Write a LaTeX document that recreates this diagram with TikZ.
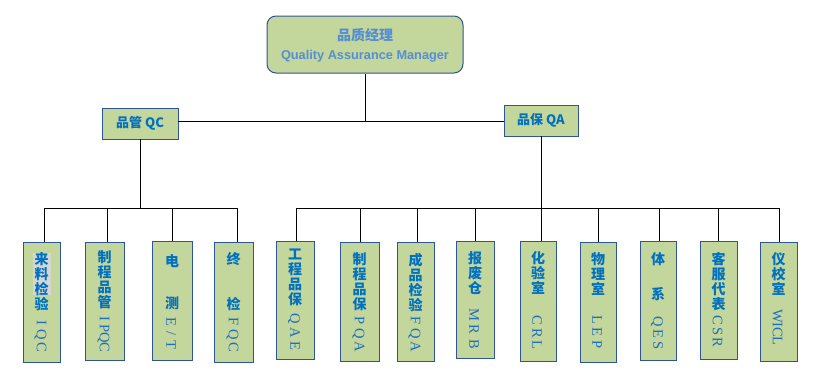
\documentclass[tikz,border=0pt]{standalone}
\usepackage{fontspec}
\setmainfont{Liberation Sans}
\newfontfamily\cjk{Noto Sans CJK SC}
\newfontfamily\latm{Liberation Serif}
\definecolor{boxfill}{HTML}{C3D69B}
\definecolor{boxline}{HTML}{2F5597}
\definecolor{txtblue}{HTML}{0070C0}
\definecolor{latblue}{HTML}{1F6DBE}
\definecolor{topblue}{HTML}{558ED5}
\definecolor{hilite}{RGB}{214,214,214}
\newlength\ltrpitch
\newcommand\ltr[1]{\makebox[\ltrpitch][c]{#1}}
% name, cx, cy, w, h, cjk top y, cjk text, latin start y, latin text
\newcommand\leafbox[9]{%
  \node[leaf, minimum width=#4pt, minimum height=#5pt] (#1) at (#2,#3) {};
  \node[cjkcol] (#1c) at (#2,#6) {#7};
  \node[latcol] (#1l) at ({#2-1},#8) {#9};
}
\begin{document}
\begin{tikzpicture}[x=1pt,y=-1pt,
  leaf/.style={draw=boxline, fill=boxfill, line width=1pt, inner sep=0pt},
  midbox/.style={draw=boxline, fill=boxfill, line width=0.9pt, inner sep=0pt,
    font=\cjk\bfseries\fontsize{13}{15}\selectfont, text=txtblue},
  cjkcol/.style={font=\cjk\bfseries\fontsize{14}{15}\selectfont, text=txtblue,
    align=center, inner sep=0pt, anchor=north},
  latcol/.style={font=\latm\fontsize{14.5}{14.5}\selectfont, text=latblue,
    rotate=-90, anchor=west, inner sep=0pt},
  conn/.style={line width=1pt, draw=black}]
\useasboundingbox (0,0) rectangle (820,376);
\fill[white] (0,0) rectangle (820,376);

% top
\node[draw=boxline, fill=boxfill, line width=1pt, rounded corners=9pt,
  minimum width=196pt, minimum height=57pt] (top) at (365,44.5) {};
\node[font=\cjk\bfseries\fontsize{14}{14}\selectfont, text=topblue, anchor=base, inner sep=0pt]
  (toptxta) at (365,40) {品质经理};
\node[font=\bfseries\fontsize{12.75}{13}\selectfont, text=topblue, anchor=base, inner sep=0pt]
  (toptxtb) at (365,59.5) {Quality Assurance Manager};

% middle
\node[midbox, minimum width=76pt, minimum height=31pt] (qc) at (140,123.5) {品管 QC};
\node[midbox, minimum width=74pt, minimum height=31pt] (qa) at (541,120.5) {品保 QA};

% first leaf, with its grey highlight
\node[leaf, minimum width=37pt, minimum height=120pt] (c1) at (41.5,302) {};
\fill[hilite] (32.5,253) rectangle (50.5,295);
\node[cjkcol] (c1c) at (41.5,252) {来\\料\\检\\验};
\node[latcol] (c1l) at (40.5,316) {\setlength\ltrpitch{12.5pt}\ltr{I}\ltr{Q}\ltr{C}};

% other leaves
\leafbox{c2}{104.5}{301}{39}{118}{250}{制\\程\\品\\管}{314.25}{\setlength\ltrpitch{9.5pt}\ltr{I}\ltr{P}\ltr{Q}\ltr{C}}
\leafbox{c3}{172}{300.5}{40}{119}{254}{电\\[27pt]测}{315.75}{\setlength\ltrpitch{11.5pt}\ltr{E}\ltr{/}\ltr{T}}
\leafbox{c4}{233.5}{302}{39}{120}{252}{终\\[30pt]检}{315}{\setlength\ltrpitch{13pt}\ltr{F}\ltr{Q}\ltr{C}}
\leafbox{c5}{295}{300}{38}{118}{249}{工\\程\\品\\保}{312.25}{\setlength\ltrpitch{13.5pt}\ltr{Q}\ltr{A}\ltr{E}}
\leafbox{c6}{359.5}{301.5}{39}{119}{252}{制\\程\\品\\保}{313.25}{\setlength\ltrpitch{13.5pt}\ltr{P}\ltr{Q}\ltr{A}}
\leafbox{c7}{415.5}{301.5}{37}{119}{253}{成\\品\\检\\验}{313.25}{\setlength\ltrpitch{13.5pt}\ltr{F}\ltr{Q}\ltr{A}}
\leafbox{c8}{475}{299.5}{38}{117}{251}{报\\废\\仓}{307.75}{\setlength\ltrpitch{14.5pt}\ltr{M}\ltr{R}\ltr{B}}
\leafbox{c9}{538}{301}{36}{120}{251}{化\\验\\室}{314.4}{\setlength\ltrpitch{12.25pt}\ltr{C}\ltr{R}\ltr{L}}
\leafbox{c10}{598}{302}{36}{120}{252}{物\\理\\室}{314}{\setlength\ltrpitch{12pt}\ltr{L}\ltr{E}\ltr{P}}
\leafbox{c11}{658}{300.5}{36}{119}{252}{体\\[20pt]系}{316.25}{\setlength\ltrpitch{11.5pt}\ltr{Q}\ltr{E}\ltr{S}}
\leafbox{c12}{718.5}{300}{37}{118}{252}{客\\服\\代\\表}{314.5}{\setlength\ltrpitch{11pt}\ltr{C}\ltr{S}\ltr{R}}
\leafbox{c13}{778.5}{301.5}{37}{119}{252}{仪\\校\\室}{312.5}{\setlength\ltrpitch{8pt}\ltr{W}\ltr{I}\ltr{C}\ltr{L}}

% connectors
\coordinate (jt) at (365,121);
\draw[conn] (top.south) -- (jt);
\draw[conn] (qc.east |- jt) -- (qa.west |- jt);

\coordinate (qcbus) at (140,208);
\draw[conn] (qc.south) -- (qc.south |- qcbus);
\coordinate (c1t) at ([xshift=2.5pt]c1.north);
\coordinate (c2t) at ([xshift=2.5pt]c2.north);
\coordinate (c3t) at (c3.north);
\coordinate (c4t) at ([xshift=3.5pt]c4.north);
\draw[conn] (c1t |- qcbus) -- (c4t |- qcbus);
\foreach \c in {c1t,c2t,c3t,c4t} \draw[conn] (\c) -- (\c |- qcbus);

\draw[conn] (qa.south) -- (qa.south |- c9.north);
\coordinate (qabus) at (541,208);
\coordinate (c5t) at ([xshift=1pt]c5.north);
\coordinate (c6t) at ([xshift=0.5pt]c6.north);
\coordinate (c7t) at ([xshift=1.5pt]c7.north);
\coordinate (c8t) at (c8.north);
\coordinate (c10t) at (c10.north);
\coordinate (c11t) at ([xshift=1pt]c11.north);
\coordinate (c12t) at (c12.north);
\coordinate (c13t) at ([xshift=0.5pt]c13.north);
\draw[conn] (c5t |- qabus) -- (c13t |- qabus);
\foreach \c in {c5t,c6t,c7t,c8t,c10t,c11t,c12t,c13t} \draw[conn] (\c) -- (\c |- qabus);
\end{tikzpicture}
\end{document}
